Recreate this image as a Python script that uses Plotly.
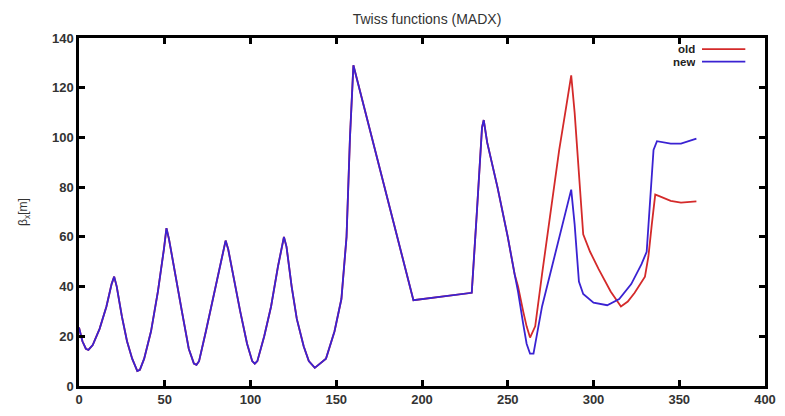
import plotly.graph_objects as go

# shared part of the optics (old and new identical up to ~255 m)
s_common = [0, 2, 4, 5.5, 8, 12, 16, 19, 20.5, 22, 25, 28, 31, 34, 35.5, 38, 42, 46, 49.5, 51,
            52.5, 56, 60, 64, 67, 68.5, 70, 74, 78, 82, 85.5, 87, 90, 94, 98, 101, 102.5, 104,
            108, 112, 116, 119.5, 121, 124, 127, 131, 134, 137.5, 144, 149, 153, 156, 158, 160,
            195, 229, 232, 235, 236, 238, 244, 250, 254]
beta_common = [23.5, 18, 15, 14.5, 16.5, 23, 32, 41, 44, 40, 28, 18, 11, 6, 6.5, 11, 22, 38, 55, 63.5,
               59, 45, 30, 15, 9, 8.5, 10, 22, 35, 48, 58.5, 55, 44, 30, 17, 10, 9, 10,
               20, 32, 48, 60, 56, 40, 27, 16, 10, 7.3, 11, 22, 35, 60, 100, 129,
               34.5, 37.5, 70, 104, 107, 98, 80, 60, 45]

s_old_tail = [256, 259, 261, 263, 266, 270, 275, 280, 284, 287, 289, 292, 294, 298, 303, 310, 316,
              320, 324, 330, 332, 334, 336, 338, 345, 351, 360]
beta_old_tail = [40, 30, 24, 19.5, 24, 45, 70, 95, 112, 125, 110, 80, 61, 54, 47, 38, 32,
                 34, 37.5, 44, 52, 65, 77, 76.5, 74.5, 73.8, 74.3]

s_new_tail = [256, 259, 261, 263, 265, 270, 275, 280, 284, 287, 289, 291.5, 294, 300, 308, 315,
              322, 328, 331, 333, 335, 337, 345, 351, 360]
beta_new_tail = [38, 25, 17, 13, 13, 32, 46, 60, 71, 79, 65, 42, 37, 33.5, 32.5, 35,
                 41, 49, 54, 75, 95, 98.5, 97.5, 97.5, 99.5]

s_old = s_common + s_old_tail
beta_old = beta_common + beta_old_tail
s_new = s_common + s_new_tail
beta_new = beta_common + beta_new_tail

RED = "#d42a2a"
BLUE = "#3a22d2"
FONT = "Liberation Sans, Arial"

fig = go.Figure()
fig.add_trace(go.Scatter(x=s_old, y=beta_old, mode="lines", name="old",
                         line=dict(color=RED, width=1.8)))
fig.add_trace(go.Scatter(x=s_new, y=beta_new, mode="lines", name="new",
                         line=dict(color=BLUE, width=1.8)))

axis_common = dict(showline=True, linecolor="black", linewidth=2.5, mirror="allticks",
                   ticks="inside", ticklen=6, tickwidth=2.5, tickcolor="black",
                   showgrid=False, zeroline=False,
                   tickfont=dict(family=FONT, size=13, color="#333", weight="bold"))

fig.update_xaxes(range=[0, 400], dtick=50, tick0=0, **axis_common)
fig.update_yaxes(range=[0, 140], dtick=20, tick0=0,
                 title=dict(text="β<sub>x</sub>[m]", standoff=22,
                            font=dict(family=FONT, size=12, color="#333")),
                 **axis_common)

W, H = 785, 416
L, R, T, B = 79, 9, 38, 17
pw, ph = W - L - R, H - T - B

def px(xp):
    return (xp - L) / pw

def py(yp):
    return (H - B - yp) / ph

# gnuplot-style legend (text left, line sample right)
for label, color, ypix in [("old", RED, 49.5), ("new", BLUE, 62.5)]:
    fig.add_annotation(x=px(706), y=py(ypix), xref="paper", yref="paper", text=label,
                       showarrow=False, xanchor="right", yanchor="middle",
                       font=dict(family=FONT, size=11.5, color="#222", weight="bold"),
                       height=12, borderpad=0)
    fig.add_shape(type="line", xref="paper", yref="paper", x0=px(712), x1=px(756),
                  y0=py(ypix), y1=py(ypix), line=dict(color=color, width=1.8))

fig.update_layout(
    width=W, height=H,
    margin=dict(l=L, r=R, t=T, b=B),
    paper_bgcolor="white", plot_bgcolor="white",
    showlegend=False,
    title=dict(text="Twiss functions (MADX)", x=427 / W, xanchor="center",
               y=1 - 19 / H, yanchor="middle",
               font=dict(family=FONT, size=14, color="#333")),
)

fig.write_html("out.html")
